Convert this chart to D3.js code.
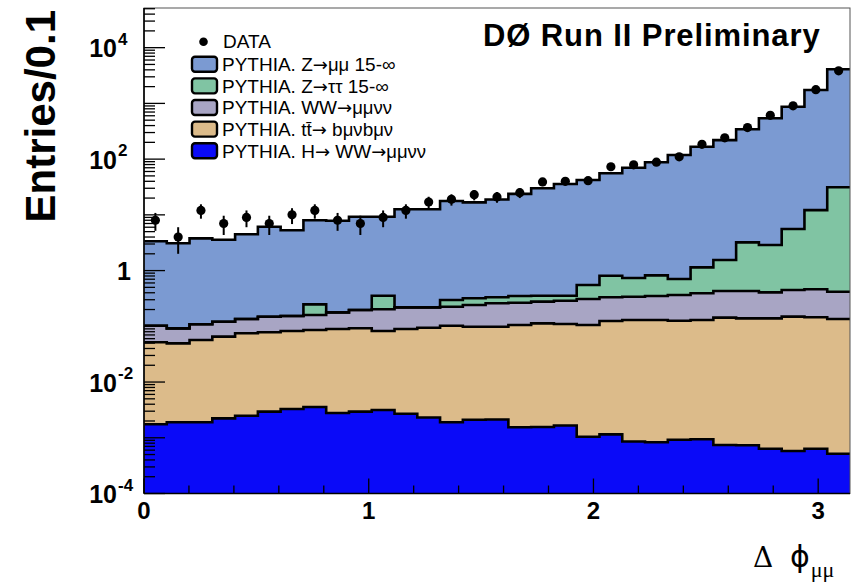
<!DOCTYPE html>
<html><head><meta charset="utf-8">
<script src="https://cdn.jsdelivr.net/npm/d3@7"></script>
<style>body{margin:0;background:#fff}svg{display:block}</style>
</head><body>
<svg id="c" width="861" height="583"></svg>
<script>
// ---- data (31 bins over [0, pi]) ----
const dataCounts = [8,4,12,7,9,7,10,12,8,7,9,12,17,19,23,21,25,39,40,41,73,79,88,110,184,241,369,611,906,1762,3846];
const zMuMu   = [3.25,3.00,3.68,3.46,4.35,5.98,5.13,7.73,7.67,9.06,8.91,12.4,12.4,17.4,16.4,18.5,23.4,29.6,35.4,41.7,54.9,69.5,86.9,118,166,218,340,537,867,1726,4062];
const zTauTau = [0,0,0,0,0,0,0,0.088,0,0,0.152,0,0,0.071,0.077,0.073,0.085,0.077,0.066,0.242,0.477,0.396,0.472,0.341,0.749,1.12,2.78,2.47,5.12,11.7,30.8];
const wwMuMu  = [0.051,0.0425,0.0518,0.0558,0.060,0.0704,0.0706,0.0741,0.0885,0.104,0.1196,0.1295,0.1246,0.1224,0.1426,0.1606,0.1595,0.164,0.178,0.2035,0.2075,0.210,0.220,0.239,0.261,0.287,0.291,0.268,0.300,0.316,0.283];
const ttbar   = [0.0499,0.0476,0.0549,0.0630,0.0725,0.0753,0.0791,0.0823,0.0867,0.0891,0.0793,0.0868,0.0921,0.1007,0.0963,0.0963,0.1040,0.1114,0.1083,0.1045,0.1234,0.1291,0.1292,0.1251,0.1291,0.1423,0.1383,0.1383,0.1484,0.1444,0.1345];
const higgs   = [0.00175,0.0019,0.0019,0.00223,0.00249,0.00294,0.00328,0.00356,0.00278,0.00294,0.00315,0.0027,0.00231,0.0019,0.0021,0.00213,0.00154,0.00156,0.00166,0.00104,0.00115,0.000857,0.00083,0.000922,0.000942,0.000741,0.000733,0.000634,0.00058,0.000634,0.000518];

const stackKeys = ["higgs","ttbar","ww","ztt","zmm"];
const legendKeys = ["zmm","ztt","ww","ttbar","higgs"];
const legendLabels = ["PYTHIA. Z→μμ 15-∞","PYTHIA. Z→ττ 15-∞","PYTHIA. WW→μμνν","PYTHIA. tt\u0304→ bμνbμν","PYTHIA. H→ WW→μμνν"];
const dataLabel = "DATA";
const yLabelExps = [4,2,0,-2,-4];
const xTickLabels = [0,1,2,3];
const title = "DØ Run II Preliminary";

const colors = {zmm:"#7b9ad2", ztt:"#80c4a3", ww:"#a8a5c4", ttbar:"#dcbb8a", higgs:"#0a0af8"};

// ---- layout ----
const L=144, R=850, T=8, B=493.5;
const nBins = dataCounts.length;
const xMax = Math.PI;
const x = d3.scaleLinear().domain([0, xMax]).range([L, R]);
const y = d3.scaleLog().domain([1e-4, 5.15e4]).range([B, T]);
const edges = d3.range(nBins+1).map(i => i*xMax/nBins);

const svg = d3.select("#c");
svg.append("rect").attr("width",861).attr("height",583).attr("fill","#fff");
svg.append("defs").append("clipPath").attr("id","clip")
  .append("rect").attr("x",L).attr("y",T).attr("width",R-L).attr("height",B-T);

const rows = d3.range(nBins).map(i => ({higgs:higgs[i], ttbar:ttbar[i], ww:wwMuMu[i], ztt:zTauTau[i], zmm:zMuMu[i]}));
const stacked = d3.stack().keys(stackKeys)(rows);

const g = svg.append("g").attr("clip-path","url(#clip)");
const ptsOf = layer => edges.map((e,j) => { const d = layer[Math.min(j,nBins-1)]; return {x:e, y0:Math.max(d[0],1e-4), y1:Math.max(d[1],1e-4)}; });
const area = d3.area().curve(d3.curveStepAfter).x(d=>x(d.x)).y0(d=>y(d.y0)).y1(d=>y(d.y1));
const line = d3.line().curve(d3.curveStepAfter).x(d=>x(d.x)).y(d=>y(d.y1));

stacked.forEach(layer => {
  g.append("path").attr("d", area(ptsOf(layer))).attr("fill", colors[layer.key]).attr("stroke", colors[layer.key]).attr("stroke-width",0.5);
});
stacked.forEach(layer => {
  g.append("path").attr("d", line(ptsOf(layer))).attr("fill","none").attr("stroke","#000").attr("stroke-width",2.6).attr("stroke-linejoin","miter");
});

// ---- axes ----
const ax = svg.append("g");
ax.append("rect").attr("x",L).attr("y",T).attr("width",R-L).attr("height",B-T).attr("fill","none").attr("stroke","#555").attr("stroke-width",1);
ax.append("line").attr("x1",L).attr("x2",L).attr("y1",T).attr("y2",B).attr("stroke","#000").attr("stroke-width",1.6);
ax.append("line").attr("x1",L).attr("x2",R).attr("y1",B).attr("y2",B).attr("stroke","#000").attr("stroke-width",1.6);

const [yMin, yMax] = y.domain();
for (let k=-4; k<=4; k++) {
  for (let m=1; m<=9; m++) {
    const v = m*Math.pow(10,k);
    if (v < yMin || v > yMax) continue;
    const len = m===1 ? 21 : 11;
    ax.append("line").attr("x1",L).attr("x2",L+len).attr("y1",y(v)).attr("y2",y(v)).attr("stroke","#000").attr("stroke-width",1.3);
  }
}
yLabelExps.forEach(e => {
  const yy = y(Math.pow(10,e));
  if (e===0) {
    ax.append("text").attr("x",131).attr("y",yy+9).attr("text-anchor","end")
      .attr("font-family","Liberation Sans, Arial, sans-serif").attr("font-weight","bold").attr("font-size",25).text("1");
  } else {
    ax.append("text").attr("x",117).attr("y",yy+9.5).attr("text-anchor","end")
      .attr("font-family","Liberation Sans, Arial, sans-serif").attr("font-weight","bold").attr("font-size",25).text("10");
    ax.append("text").attr("x",118).attr("y",yy-3).attr("text-anchor","start")
      .attr("font-family","Liberation Sans, Arial, sans-serif").attr("font-weight","bold").attr("font-size",17).text(String(e));
  }
});
d3.range(0, 3.21, 0.2).forEach(v => {
  if (v > xMax) return;
  const major = Math.abs(v-Math.round(v))<1e-6;
  const len = major ? 15 : 8;
  ax.append("line").attr("x1",x(v)).attr("x2",x(v)).attr("y1",B).attr("y2",B-len).attr("stroke","#000").attr("stroke-width",1.3);
});
xTickLabels.forEach(v => {
  ax.append("text").attr("x",x(v)).attr("y",519).attr("text-anchor","middle")
    .attr("font-family","Liberation Sans, Arial, sans-serif").attr("font-weight","bold").attr("font-size",24).text(v);
});

// axis titles
svg.append("text").attr("transform","translate(55,10) rotate(-90)").attr("text-anchor","end")
  .attr("font-family","Liberation Sans, Arial, sans-serif").attr("font-weight","bold").attr("font-size",42).text("Entries/0.1");
const xt = svg.append("text").attr("x",753).attr("y",567)
  .attr("font-family","DejaVu Serif, Liberation Serif, serif").attr("font-size",28);
xt.append("tspan").text("Δ");
xt.append("tspan").attr("x",790).attr("font-family","DejaVu Sans, sans-serif").attr("font-size",30).text("ϕ");
xt.append("tspan").attr("dy",10).attr("dx",1).attr("font-family","Liberation Serif, serif").attr("font-size",22).text("μμ");

// ---- data points ----
const dp = svg.append("g");
dataCounts.forEach((n,i) => {
  const cx = x((edges[i]+edges[i+1])/2);
  const err = Math.sqrt(n);
  dp.append("line").attr("x1",cx).attr("x2",cx).attr("y1",y(n+err)).attr("y2",y(Math.max(n-err,1e-4)))
    .attr("stroke","#000").attr("stroke-width",2);
  dp.append("circle").attr("cx",cx).attr("cy",y(n)).attr("r",4.6).attr("fill","#000");
});

// ---- legend ----
const lg = svg.append("g").attr("font-family","Liberation Sans, Arial, sans-serif").attr("font-size",19);
lg.append("circle").attr("cx",203.5).attr("cy",41.7).attr("r",4.3).attr("fill","#000");
lg.append("text").attr("x",223).attr("y",48).text(dataLabel);
const smallRe = /([μτν]+)/;
legendKeys.forEach((k,i) => {
  const cy = 64.2 + i*21.65;
  lg.append("rect").attr("x",192).attr("y",cy-7.5).attr("width",25).attr("height",15).attr("rx",3)
    .attr("fill",colors[k]).attr("stroke","#000").attr("stroke-width",2.4);
  const t = lg.append("text").attr("x",222).attr("y",cy+6.8);
  legendLabels[i].split(/([μτν]+|→|∞)/).forEach(part => {
    if (!part) return;
    const ts = t.append("tspan").text(part);
    if (smallRe.test(part)) ts.attr("font-size",18.5);
    else if (part === "→") ts.attr("font-family","DejaVu Sans, sans-serif").attr("font-size",18);
    else if (part === "∞") ts.attr("font-size",19);
  });
});

// title
svg.append("text").attr("x",483).attr("y",46).attr("font-family","Liberation Sans, Arial, sans-serif")
  .attr("font-weight","bold").attr("font-size",31).attr("letter-spacing",0.9).text(title);
</script>
</body></html>
